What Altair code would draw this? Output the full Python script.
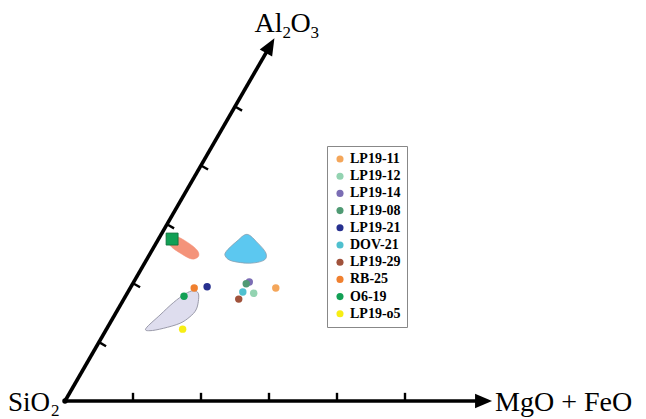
import altair as alt
import pandas as pd

# ---- sample points (coordinates along the two oblique axes, 10 units per tick) ----
samples = ["LP19-11", "LP19-12", "LP19-14", "LP19-08", "LP19-21",
           "DOV-21", "LP19-29", "RB-25", "O6-19", "LP19-o5"]
colors = ["#F4A65A", "#93D3B1", "#7B6DB4", "#4F9A73", "#27308F",
          "#4FC0CF", "#A0523B", "#F0802F", "#12A055", "#F7EE14"]
mgo_feo = [21.4, 18.6, 17.0, 16.7, 11.2, 16.9, 16.9, 9.4, 8.6, 11.2]
al2o3 = [19.2, 18.3, 20.2, 19.9, 19.4, 18.5, 17.3, 19.2, 17.8, 12.2]

square_u = [2.0]
square_v = [27.5]

# ---- field outlines ----
salmon_u = [0.80, 2.60, 4.90, 6.70, 7.35, 6.60, 4.50, 2.20]
salmon_v = [28.30, 27.90, 26.75, 25.55, 24.55, 24.10, 25.05, 26.45]
blue_u = [12.63, 14.90, 17.00, 17.30, 15.47, 12.74, 11.43, 11.00, 11.72]
blue_v = [28.30, 26.85, 25.10, 23.90, 23.40, 23.75, 24.45, 25.35, 27.15]
lav_u = [5.74, 6.67, 7.58, 8.57, 9.50, 10.46, 11.17, 11.53, 11.22, 10.31, 8.29, 6.53]
lav_v = [12.34, 14.60, 16.69, 18.17, 18.73, 18.29, 16.86, 15.45, 14.31, 13.19, 12.34, 11.94]

# ---- axes ----
tick_values = [10, 20, 30, 40, 50]
h_axis_end = 62.8
s_axis_end = 61.6

H = 411
XDOM = [-8.382, 84.265]
YDOM = [57.794 - H / 6.8, 57.794]
xs = alt.Scale(domain=XDOM, nice=False, zero=False)
ys = alt.Scale(domain=YDOM, nice=False, zero=False)
SERIF = "Liberation Serif"


def to_xy(ch):
    return ch.transform_calculate(
        X="datum.u + 0.5 * datum.v", Y="0.8660254 * datum.v"
    )


def enc(ch):
    return ch.encode(x=alt.X("X:Q", scale=xs, axis=None),
                     y=alt.Y("Y:Q", scale=ys, axis=None))


def shape_layer(us, vs, fill, stroke, sw):
    df = pd.DataFrame({"u": us, "v": vs, "idx": list(range(len(us)))})
    base = to_xy(alt.Chart(df).mark_line(
        interpolate="cardinal-closed", fill=fill, stroke=stroke, strokeWidth=sw))
    return base.encode(x=alt.X("X:Q", scale=xs, axis=None),
                       y=alt.Y("Y:Q", scale=ys, axis=None),
                       order="idx:Q")


lav = shape_layer(lav_u, lav_v, "#DEDDEE", "#9A9AAA", 1)
blue = shape_layer(blue_u, blue_v, "#5CC8F0", "#8A9FB0", 0.8)
salmon = shape_layer(salmon_u, salmon_v, "#F4937A", "#F4937A", 0.5)

# axis lines
axes_df = pd.DataFrame({"u": [0, 0], "v": [0, 0],
                        "u2": [h_axis_end - 1.5, 0], "v2": [0, s_axis_end - 1.5]})
axis_lines = alt.Chart(axes_df).transform_calculate(
    X="datum.u + 0.5 * datum.v", Y="0.8660254 * datum.v",
    X2="datum.u2 + 0.5 * datum.v2", Y2="0.8660254 * datum.v2"
).mark_rule(color="black", strokeWidth=3.6, strokeCap="butt").encode(
    x=alt.X("X:Q", scale=xs, axis=None), y=alt.Y("Y:Q", scale=ys, axis=None),
    x2="X2:Q", y2="Y2:Q")

ticks_df = pd.DataFrame({"t": tick_values})
h_ticks = alt.Chart(ticks_df).transform_calculate(
    X="datum.t", Y="0", X2="datum.t", Y2="1.2"
).mark_rule(color="black", strokeWidth=2.4).encode(
    x=alt.X("X:Q", scale=xs, axis=None), y=alt.Y("Y:Q", scale=ys, axis=None),
    x2="X2:Q", y2="Y2:Q")
s_ticks = alt.Chart(ticks_df).transform_calculate(
    X="0.5 * datum.t", Y="0.8660254 * datum.t",
    X2="0.5 * datum.t + 1.2 * 0.8660254", Y2="0.8660254 * datum.t - 0.6"
).mark_rule(color="black", strokeWidth=2.4).encode(
    x=alt.X("X:Q", scale=xs, axis=None), y=alt.Y("Y:Q", scale=ys, axis=None),
    x2="X2:Q", y2="Y2:Q")

ARROW = "M0,0L-1,-0.42L-1,0.42Z"
h_arrow = enc(to_xy(alt.Chart(pd.DataFrame({"u": [h_axis_end], "v": [0]})).mark_point(
    shape=ARROW, size=1156, filled=True, color="black", opacity=1, angle=0)))
s_arrow = enc(to_xy(alt.Chart(pd.DataFrame({"u": [0], "v": [s_axis_end]})).mark_point(
    shape=ARROW, size=1156, filled=True, color="black", opacity=1, angle=300)))

origin = enc(to_xy(alt.Chart(pd.DataFrame({"u": [0], "v": [0]})).mark_circle(
    size=30, color="black", opacity=1)))

# labels
origin_df = pd.DataFrame({"u": [0], "v": [0]})
hend_df = pd.DataFrame({"u": [h_axis_end], "v": [0]})
send_df = pd.DataFrame({"u": [0], "v": [s_axis_end]})


def label(df, text, size, align, dx, dy):
    return enc(to_xy(alt.Chart(df).mark_text(
        text=text, font=SERIF, fontSize=size, align=align, baseline="alphabetic",
        dx=dx, dy=dy, color="black")))


labels = [
    label(origin_df, "SiO", 27, "right", -15, 10),
    label(origin_df, "2", 17, "left", -14, 15),
    label(hend_df, "MgO + FeO", 28, "left", 3, 10),
    label(send_df, "Al", 28, "left", -20, -6),
    label(send_df, "2", 17, "left", 8, 0),
    label(send_df, "O", 28, "left", 16, -6),
    label(send_df, "3", 17, "left", 36, 0),
]

# square marker
square = enc(to_xy(alt.Chart(pd.DataFrame({"u": square_u, "v": square_v})).mark_square(
    size=144, color="#12A055", opacity=1, stroke="#0B6E3A", strokeWidth=0.8)))

# sample points
pts_df = pd.DataFrame({"sample": samples, "u": mgo_feo, "v": al2o3})
points = to_xy(alt.Chart(pts_df).mark_circle(size=55, opacity=1)).encode(
    x=alt.X("X:Q", scale=xs, axis=None),
    y=alt.Y("Y:Q", scale=ys, axis=None),
    color=alt.Color("sample:N",
                    scale=alt.Scale(domain=samples, range=colors),
                    sort=samples,
                    legend=alt.Legend(
                        title=None, orient="none", legendX=319, legendY=138,
                        strokeColor="#888888", padding=6, symbolType="circle",
                        symbolSize=50, symbolStrokeWidth=0, labelFont=SERIF,
                        labelFontSize=14, labelFontWeight="bold", labelColor="black",
                        labelOffset=3, rowPadding=3.2,
                        labelExpr="datum.label + '    '")),
)

chart = alt.layer(
    lav, blue, salmon, axis_lines, h_ticks, s_ticks, h_arrow, s_arrow, origin,
    *labels, square, points
).properties(
    width=630, height=H, padding=0,
    autosize=alt.AutoSizeParams(type="none"),
).configure_view(strokeWidth=0)

chart.save("out.html", embed_options={"renderer": "svg", "actions": False})
